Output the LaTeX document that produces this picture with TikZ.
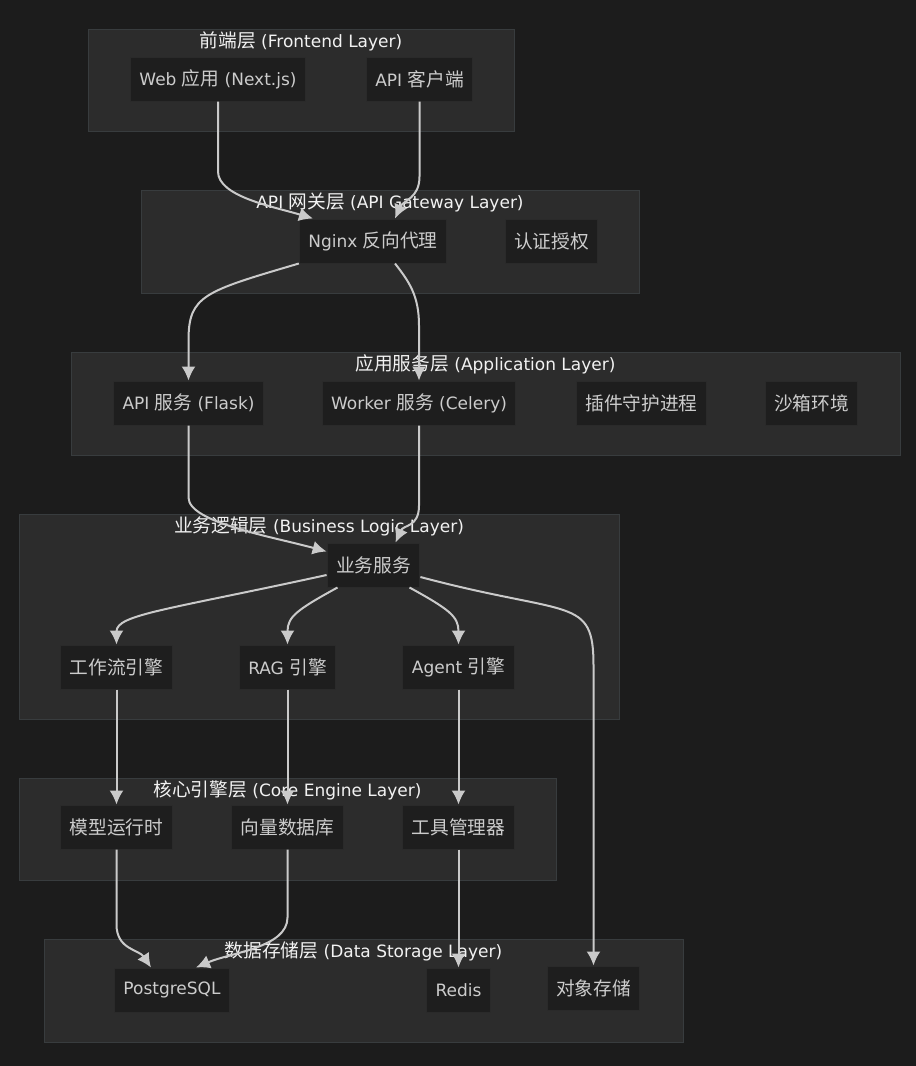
\documentclass[tikz,border=0pt]{standalone}
\usepackage{fontspec}
\setmainfont{DejaVu Sans}
\newfontfamily\zhfont[Scale=1.1]{Noto Sans CJK SC}
\newcommand{\zh}[1]{{\zhfont #1}}
\usepackage{xcolor}
\usetikzlibrary{arrows.meta,positioning}

\definecolor{canvas}{HTML}{1C1C1C}
\definecolor{layerfill}{HTML}{2C2C2C}
\definecolor{layerline}{HTML}{383C3E}
\definecolor{boxfill}{HTML}{1E1E1E}
\definecolor{boxline}{HTML}{2A2A2A}
\definecolor{boxtext}{HTML}{CCCCCC}
\definecolor{titletext}{HTML}{F2F2F2}
\definecolor{edgecol}{HTML}{CACACA}

\begin{document}
\begin{tikzpicture}[
    x=1pt, y=1pt,
    >={Latex[length=14pt,width=14pt]},
    layer/.style={
        rectangle, draw=layerline, fill=layerfill, line width=1pt, inner sep=0pt
    },
    layertitle/.style={
        font=\fontsize{17}{20}\selectfont, text=titletext, inner sep=2pt
    },
    comp/.style={
        rectangle, draw=boxline, fill=boxfill, line width=1pt,
        minimum height=44pt, inner xsep=9pt,
        font=\fontsize{17}{20}\selectfont, text=boxtext
    },
    flow/.style={
        ->, draw=edgecol, line width=2pt
    }
]

% — Canvas —
\fill[canvas] (0,0) rectangle (916,-1066);

% — Layers —
\node[layer, minimum width=426pt, minimum height=102pt] (front) at (301,-80) {};
\node[layertitle, below=1pt of front.north] (front_t) {\zh{前端层} (Frontend Layer)};

\node[layer, minimum width=498pt, minimum height=103pt] (gate) at (390,-241.5) {};
\node[layertitle, below=1pt of gate.north] (gate_t) {API \zh{网关层} (API Gateway Layer)};

\node[layer, minimum width=829pt, minimum height=103pt] (app) at (485.5,-403.5) {};
\node[layertitle, below=1pt of app.north] (app_t) {\zh{应用服务层} (Application Layer)};

\node[layer, minimum width=600pt, minimum height=205pt] (logic) at (319,-616.5) {};
\node[layertitle, below=1pt of logic.north] (logic_t) {\zh{业务逻辑层} (Business Logic Layer)};

\node[layer, minimum width=537pt, minimum height=102pt] (core) at (287.5,-829) {};
\node[layertitle, below=1pt of core.north] (core_t) {\zh{核心引擎层} (Core Engine Layer)};

\node[layer, minimum width=639pt, minimum height=103pt] (store) at (363.5,-990.5) {};
\node[layertitle, below=1pt of store.north] (store_t) {\zh{数据存储层} (Data Storage Layer)};

% — Components —
\node[comp] (web)     at (218,-79)    {Web \zh{应用} (Next.js)};
\node[comp] (client)  at (419.5,-79)  {API \zh{客户端}};

\node[comp] (nginx)   at (373,-241)   {Nginx \zh{反向代理}};
\node[comp] (auth)    at (551.5,-241) {\zh{认证授权}};

\node[comp] (apisvc)  at (188.5,-403) {API \zh{服务} (Flask)};
\node[comp] (worker)  at (419,-403)   {Worker \zh{服务} (Celery)};
\node[comp] (plugin)  at (641.5,-403) {\zh{插件守护进程}};
\node[comp] (sandbox) at (811.5,-403) {\zh{沙箱环境}};

\node[comp] (biz)     at (373.5,-565) {\zh{业务服务}};
\node[comp] (wf)      at (116.5,-667) {\zh{工作流引擎}};
\node[comp] (rag)     at (287.5,-667) {RAG \zh{引擎}};
\node[comp] (agent)   at (458.5,-667) {Agent \zh{引擎}};

\node[comp] (model)   at (116.5,-827) {\zh{模型运行时}};
\node[comp] (vec)     at (287.5,-827) {\zh{向量数据库}};
\node[comp] (tool)    at (458.5,-827) {\zh{工具管理器}};

\node[comp] (pg)      at (172,-990)   {PostgreSQL};
\node[comp] (redis)   at (458.5,-990) {Redis};
\node[comp] (obj)     at (593.5,-988) {\zh{对象存储}};

% — Connectors —
\draw[flow] (web.south) -- ++(0,-70) .. controls +(0,-25) and +(-40,12) .. ([xshift=-60pt]nginx.north);
\draw[flow] (client.south) -- ++(0,-75) .. controls +(0,-22) and +(8,18) .. ([xshift=22pt]nginx.north);

\draw[flow] (nginx.south west) .. controls +(-95,-28) and +(0,45) .. ([yshift=40pt]apisvc.north) -- (apisvc.north);
\draw[flow] ([xshift=22pt]nginx.south) .. controls +(14,-18) and +(0,30) .. ([yshift=55pt]worker.north) -- (worker.north);

\draw[flow] (apisvc.south) -- ++(0,-72) .. controls +(0,-25) and +(-55,15) .. ([yshift=-9pt]biz.north west);
\draw[flow] (worker.south) -- ++(0,-80) .. controls +(0,-22) and +(8,18) .. ([xshift=22pt]biz.north);

\draw[flow] ([yshift=-10pt]biz.west) .. controls +(-160,-35) and +(0,30) .. (wf.north);
\draw[flow] ([xshift=-36pt]biz.south) .. controls +(-40,-22) and +(0,28) .. (rag.north);
\draw[flow] ([xshift=36pt]biz.south) .. controls +(40,-22) and +(0,28) .. (agent.north);
\draw[flow] ([yshift=-12pt]biz.east) .. controls +(150,-40) and +(0,70) .. ([yshift=300pt]obj.north) -- (obj.north);

\draw[flow] (wf.south) -- (model.north);
\draw[flow] (rag.south) -- (vec.north);
\draw[flow] (agent.south) -- (tool.north);

\draw[flow] (model.south) -- ++(0,-75) .. controls +(0,-25) and +(-12,18) .. ([xshift=-21pt]pg.north);
\draw[flow] (vec.south) -- ++(0,-68) .. controls +(0,-30) and +(35,15) .. ([xshift=24pt]pg.north);
\draw[flow] (tool.south) -- (redis.north);

\end{tikzpicture}
\end{document}
